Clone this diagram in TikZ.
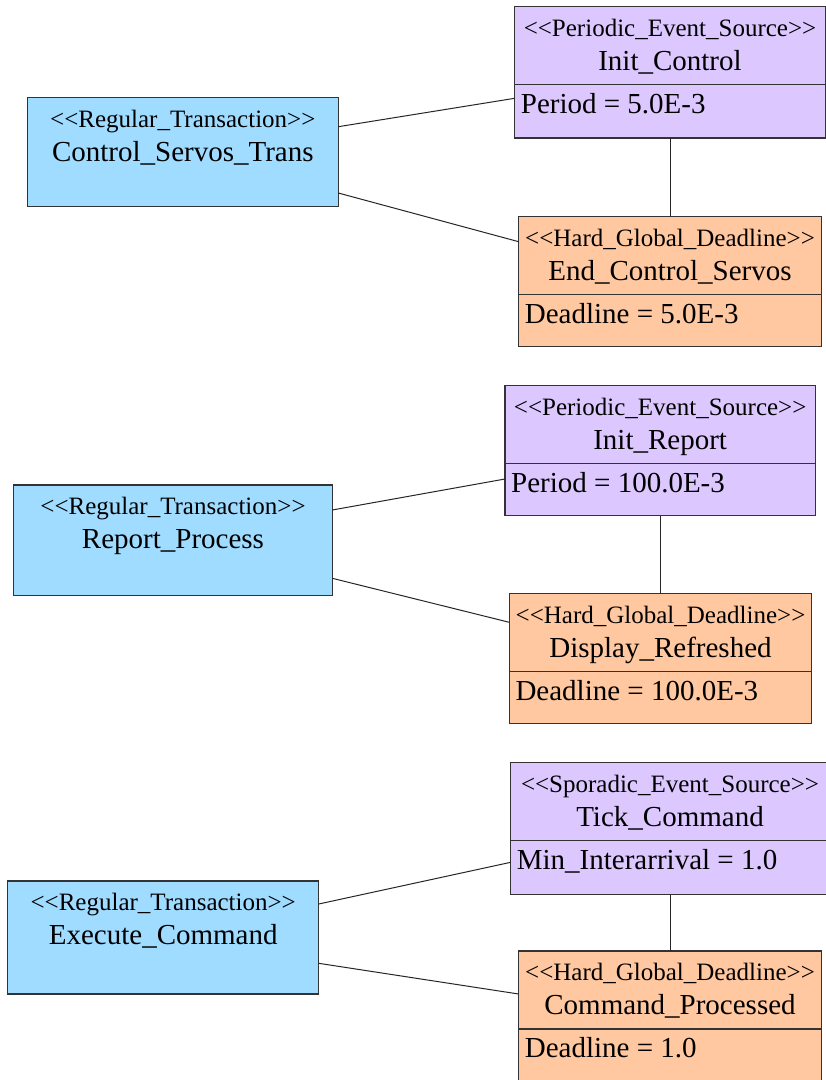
\documentclass[tikz,border=0pt]{standalone}
\usepackage{fontspec}
\setmainfont{Liberation Serif}
\usetikzlibrary{calc}

\definecolor{transblue}{HTML}{A0DCFF}
\definecolor{sourcepurple}{HTML}{DCC8FF}
\definecolor{deadlineorange}{HTML}{FFC8A0}
\definecolor{edgegray}{HTML}{333333}

% guillemet-style stereotype brackets, kept as plain < and > characters
\newcommand\stereo[1]{<\kern0pt<#1>\kern0pt>}

\tikzset{
  umlbox/.style={draw=edgegray, line width=1.2pt, rectangle, inner sep=0pt,
                 outer sep=0pt, anchor=north west},
  transbox/.style={umlbox, fill=transblue},
  sourcebox/.style={umlbox, fill=sourcepurple},
  deadlinebox/.style={umlbox, fill=deadlineorange},
  stereotext/.style={font=\fontsize{25}{30}\selectfont, inner sep=0pt, anchor=base},
  nametext/.style={font=\fontsize{29}{34}\selectfont, inner sep=0pt, anchor=base},
  attrtext/.style={font=\fontsize{29}{34}\selectfont, inner sep=0pt, anchor=base west},
  divider/.style={draw=edgegray, line width=1.1pt},
  link/.style={draw=black!85, line width=1pt},
}

% transaction box: name, top-left, width, height, stereotype, title
\newcommand\trbox[6]{%
  \node[transbox, minimum width=#3, minimum height=#4] (#1) at (#2) {};
  \node[stereotext] (#1-st) at ($(#1.north)+(0,29.5)$) {\stereo{#5}};
  \node[nametext] (#1-nm) at ($(#1.north)+(0,63.5)$) {#6};
}

% event / deadline box with one attribute compartment
\newcommand\compbox[8]{%
  \node[#2, minimum width=#4, minimum height=#5] (#1) at (#3) {};
  \node[stereotext] (#1-st) at ($(#1.north)+(0,29.5)$) {\stereo{#6}};
  \node[nametext] (#1-nm) at ($(#1.north)+(0,63.5)$) {#7};
  \draw[divider] ($(#1.north west)+(0,78)$) -- ($(#1.north east)+(0,78)$);
  \node[attrtext] (#1-at) at ($(#1.north west)+(6,106.5)$) {#8};
}

\begin{document}
\begin{tikzpicture}[x=1pt, y=-1pt]
  \fill[white] (0,0) rectangle (826,1080);
  \useasboundingbox (0,0) rectangle (826,1080);
  \clip (0,0) rectangle (826,1080);

  % --- Control_Servos_Trans ---
  \trbox{t1}{27.3,97.7}{311pt}{108.6pt}{Regular\_Transaction}{Control\_Servos\_Trans}
  \compbox{s1}{sourcebox}{514.7,6.7}{310.6pt}{131.3pt}{Periodic\_Event\_Source}{Init\_Control}{Period = 5.0E-3}
  \compbox{d1}{deadlinebox}{518.7,216.7}{302.6pt}{130pt}{Hard\_Global\_Deadline}{End\_Control\_Servos}{Deadline = 5.0E-3}
  \draw[link] ($(t1.north east)+(0,29)$) -- ($(s1.north west)+(0,91.6)$);
  \draw[link] ($(t1.north east)+(0,95.3)$) -- ($(d1.north west)+(0,25)$);
  \draw[link] (s1.south) -- (s1.south |- d1.north);

  % --- Report_Process ---
  \trbox{t2}{13.7,485}{318.6pt}{110.3pt}{Regular\_Transaction}{Report\_Process}
  \compbox{s2}{sourcebox}{505,385.7}{310.3pt}{130pt}{Periodic\_Event\_Source}{Init\_Report}{Period = 100.0E-3}
  \compbox{d2}{deadlinebox}{509.3,593.7}{302.4pt}{129.6pt}{Hard\_Global\_Deadline}{Display\_Refreshed}{Deadline = 100.0E-3}
  \draw[link] ($(t2.north east)+(0,25)$) -- ($(s2.north west)+(0,93.3)$);
  \draw[link] ($(t2.north east)+(0,93.3)$) -- ($(d2.north west)+(0,28.6)$);
  \draw[link] (s2.south) -- (s2.south |- d2.north);

  % --- Execute_Command ---
  \trbox{t3}{7.7,881}{311pt}{113pt}{Regular\_Transaction}{Execute\_Command}
  \compbox{s3}{sourcebox}{510.7,762.7}{318.6pt}{132pt}{Sporadic\_Event\_Source}{Tick\_Command}{Min\_Interarrival = 1.0}
  \compbox{d3}{deadlinebox}{518.7,951}{302.6pt}{132pt}{Hard\_Global\_Deadline}{Command\_Processed}{Deadline = 1.0}
  \draw[link] ($(t3.north east)+(0,23)$) -- ($(s3.north west)+(0,99.6)$);
  \draw[link] ($(t3.north east)+(0,82.3)$) -- ($(d3.north west)+(0,43)$);
  \draw[link] (s3.south) -- (s3.south |- d3.north);
\end{tikzpicture}
\end{document}
